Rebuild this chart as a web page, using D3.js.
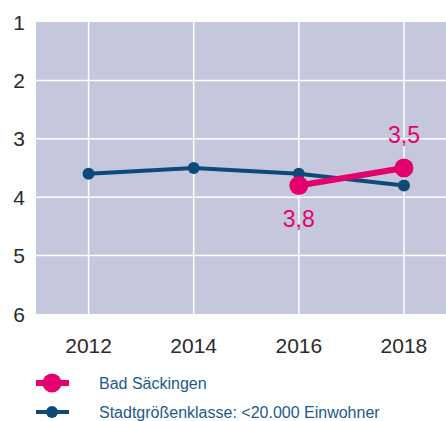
<!DOCTYPE html>
<html>
<head>
<meta charset="utf-8">
<script src="https://cdn.jsdelivr.net/npm/d3@7"></script>
<style>
  body { margin: 0; background: #fff; }
  svg { display: block; font-family: "Liberation Sans", Arial, sans-serif; }
</style>
</head>
<body>
<svg width="446" height="421"></svg>
<script>
// chart data
var years = [2012, 2014, 2016, 2018];
var yTicks = [1, 2, 3, 4, 5, 6];
var stadtValues = [3.6, 3.5, 3.6, 3.8];
var badYears = [2016, 2018];
var badValues = [3.8, 3.5];
var badLabels = ["3,8", "3,5"];
var seriesNames = ["Bad Säckingen", "Stadtgrößenklasse: <20.000 Einwohner"];

var pink = "#e4006d",
    blue = "#0c4b79",
    bg = "#c5c8dc";

var svg = d3.select("svg");

// plot area (note: "top" is taken by window.top, so use plot.*)
var plot = {left: 36, top: 22, right: 446, bottom: 314};

var x = d3.scaleLinear().domain([2011, 2018.8]).range([plot.left, plot.right]);
var y = d3.scaleLinear().domain([1, 6]).range([plot.top, plot.bottom]);

svg.append("rect")
    .attr("x", plot.left).attr("y", plot.top)
    .attr("width", plot.right - plot.left).attr("height", plot.bottom - plot.top)
    .attr("fill", bg);

// grid lines
svg.append("g").selectAll("line")
  .data(yTicks.slice(1, 5))
  .enter().append("line")
    .attr("x1", plot.left).attr("x2", plot.right)
    .attr("y1", function(d) { return y(d); })
    .attr("y2", function(d) { return y(d); })
    .attr("stroke", "#fff").attr("stroke-width", 1.5);

svg.append("g").selectAll("line")
  .data(years)
  .enter().append("line")
    .attr("x1", function(d) { return x(d); })
    .attr("x2", function(d) { return x(d); })
    .attr("y1", plot.top).attr("y2", plot.bottom)
    .attr("stroke", "#fff").attr("stroke-width", 1.5);

// y axis labels
svg.append("g").selectAll("text")
  .data(yTicks)
  .enter().append("text")
    .attr("x", 19)
    .attr("y", function(d) { return y(d); })
    .attr("dy", "0.36em")
    .attr("text-anchor", "middle")
    .attr("font-size", 21)
    .attr("fill", "#2a2a2a")
    .text(function(d) { return d; });

// x axis labels
svg.append("g").selectAll("text")
  .data(years)
  .enter().append("text")
    .attr("x", function(d) { return x(d); })
    .attr("y", 353)
    .attr("text-anchor", "middle")
    .attr("font-size", 21)
    .attr("fill", "#2a2a2a")
    .text(function(d) { return d; });

// stadt line
var stadt = years.map(function(d, i) { return {year: d, value: stadtValues[i]}; });
var line = d3.line()
    .x(function(d) { return x(d.year); })
    .y(function(d) { return y(d.value); });

svg.append("path")
    .datum(stadt)
    .attr("d", line)
    .attr("fill", "none")
    .attr("stroke", blue)
    .attr("stroke-width", 4);

svg.append("g").selectAll("circle")
  .data(stadt)
  .enter().append("circle")
    .attr("cx", function(d) { return x(d.year); })
    .attr("cy", function(d) { return y(d.value); })
    .attr("r", 6)
    .attr("fill", blue);

// bad säckingen line
var bad = badYears.map(function(d, i) { return {year: d, value: badValues[i], label: badLabels[i]}; });

svg.append("path")
    .datum(bad)
    .attr("d", line)
    .attr("fill", "none")
    .attr("stroke", pink)
    .attr("stroke-width", 6);

svg.append("g").selectAll("circle")
  .data(bad)
  .enter().append("circle")
    .attr("cx", function(d) { return x(d.year); })
    .attr("cy", function(d) { return y(d.value); })
    .attr("r", 9.5)
    .attr("fill", pink);

// value labels: first one below, last one above
svg.append("g").selectAll("text")
  .data(bad)
  .enter().append("text")
    .attr("x", function(d) { return x(d.year); })
    .attr("y", function(d, i) { return i == 0 ? y(d.value) + 41 : y(d.value) - 25; })
    .attr("text-anchor", "middle")
    .attr("font-size", 23)
    .attr("fill", pink)
    .text(function(d) { return d.label; });

// legend
var legend = svg.append("g").selectAll("g")
  .data(seriesNames)
  .enter().append("g")
    .attr("transform", function(d, i) { return "translate(0," + (383 + i * 29) + ")"; });

legend.append("line")
    .attr("x1", 36).attr("x2", 69)
    .attr("stroke", function(d, i) { return i == 0 ? pink : blue; })
    .attr("stroke-width", function(d, i) { return i == 0 ? 6 : 4; });

legend.append("circle")
    .attr("cx", 52)
    .attr("r", function(d, i) { return i == 0 ? 9.5 : 6; })
    .attr("fill", function(d, i) { return i == 0 ? pink : blue; });

legend.append("text")
    .attr("x", 99)
    .attr("dy", "0.35em")
    .attr("font-size", 16)
    .attr("fill", "#1b5a8c")
    .text(function(d) { return d; });
</script>
</body>
</html>
